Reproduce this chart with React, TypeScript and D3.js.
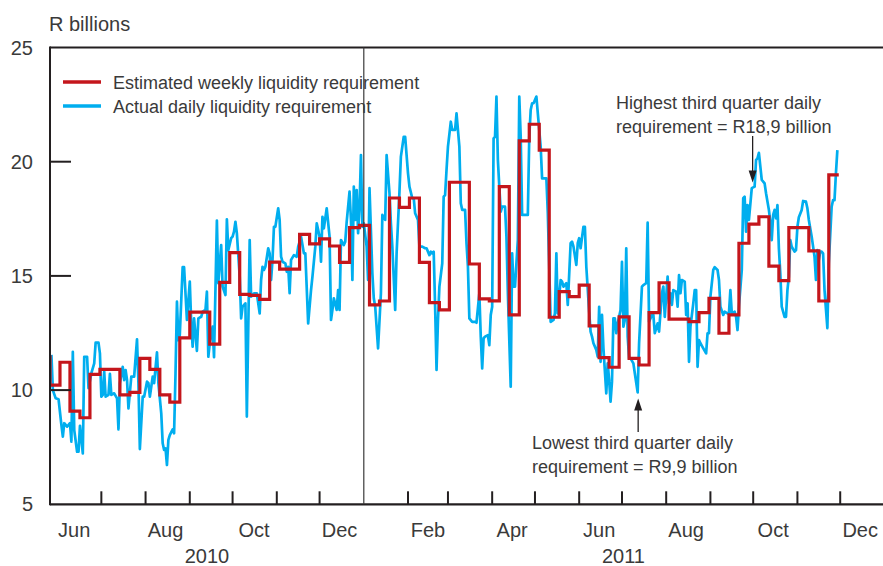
import React from "react";
import * as d3 from "d3";

// ---- Data ----
// Axis domain
const domainStart = new Date(2010, 4, 26);
const domainEnd = new Date(2011, 11, 31);

// Estimated weekly liquidity requirement (R billions), weeks starting Wednesday
const weeklyStart = new Date(2010, 4, 19);
const weeklyValues = [
  11.46, 10.22, 11.22, 9.08, 8.79, 10.69, 10.91, 10.91, 9.79, 9.9, 11.39, 10.91, 9.79, 9.47,
  12.29, 13.41, 13.41, 12.01, 14.72, 16.02, 14.19, 14.15, 13.97, 15.6, 15.3, 15.3, 16.82, 16.4,
  16.62, 16.31, 15.59, 17.11, 17.21, 13.73, 13.9, 18.41, 18.0, 18.41, 15.59, 13.83, 13.51, 19.1,
  19.1, 15.52, 13.99, 13.91, 18.91, 13.29, 20.91, 21.64, 20.51, 13.19, 14.31, 14.09, 14.6, 12.81,
  11.42, 11.0, 13.21, 11.39, 11.1, 13.39, 14.7, 13.11, 13.11, 13.0, 13.39, 14.02, 12.49, 13.29,
  16.43, 17.27, 17.59, 15.43, 14.79, 17.11, 17.11, 16.1, 13.9, 19.42,
];

// Actual daily liquidity requirement: [days after 26 May 2010, R billions]
const dailyActual: [number, number][] = [
  [1,11.54],[2,10.0],[4,9.64],[6,9.6],[8,8.47],[9,7.96],[10,8.55],[12,8.4],[14,8.55],[15,7.74],[16,11.68],[17,8.25],[19,7.3],[20,7.3],[21,8.44],[23,7.23],[24,11.46],[26,11.46],[27,10.08],[29,10.74],[31,11.17],[32,12.08],[34,12.08],[35,11.61],[36,9.71],[37,9.79],[38,10.81],[39,9.71],[41,9.79],[42,10.71],[43,9.79],[45,9.86],[47,9.64],[48,8.28],[49,10.3],[51,11.02],[52,10.44],[53,10.88],[54,10.44],[55,9.2],[57,10.59],[59,10.59],[61,12.22],[62,10.3],[63,7.42],[65,9.71],[66,9.71],[68,10.37],[69,10.3],[70,9.71],[72,10.59],[73,10.3],[75,11.65],[76,10.3],[78,8.98],[79,7.67],[80,7.38],[81,7.45],[82,6.72],[83,7.82],[84,8.03],[86,8.28],[87,8.11],[88,10.74],[89,13.87],[90,12.19],[91,12.41],[93,15.38],[94,15.38],[96,13.07],[98,14.75],[99,12.92],[100,11.9],[101,13.14],[103,11.72],[104,13.14],[106,13.21],[107,13.43],[109,13.51],[110,14.31],[111,11.46],[112,12.05],[114,12.78],[115,11.44],[117,17.42],[118,14.68],[120,16.35],[121,14.53],[123,14.16],[124,17.48],[125,16.13],[127,16.65],[128,16.72],[129,16.94],[130,17.37],[131,16.87],[133,14.97],[134,13.14],[135,13.65],[137,13.8],[138,8.84],[140,16.57],[141,14.09],[143,14.24],[145,14.24],[147,13.36],[148,14.82],[149,15.4],[150,15.26],[151,15.4],[153,16.21],[154,15.99],[155,14.82],[156,15.7],[157,17.15],[158,17.15],[160,17.96],[161,17.45],[162,15.84],[163,15.62],[165,15.55],[166,15.18],[167,15.4],[168,14.24],[169,15.7],[171,15.91],[173,15.84],[174,16.28],[176,16.72],[178,15.99],[179,15.99],[181,12.92],[183,14.38],[184,14.97],[186,16.28],[187,17.3],[189,16.72],[190,15.62],[191,17.59],[192,17.08],[194,17.96],[196,16.72],[197,13.07],[198,13.51],[199,14.02],[201,13.51],[202,14.38],[203,13.51],[204,16.57],[206,16.35],[207,16.5],[208,17.37],[210,18.69],[211,17.45],[212,14.82],[213,18.91],[214,17.45],[215,18.76],[216,16.87],[217,18.03],[218,20.29],[219,17.15],[220,17.3],[222,16.28],[223,14.82],[224,18.84],[226,15.11],[227,14.02],[228,13.65],[230,11.83],[232,14.24],[233,17.67],[235,17.45],[236,20.29],[238,18.62],[239,17.3],[240,16.28],[242,13.51],[243,15.99],[245,18.69],[246,20.22],[248,21.09],[249,21.09],[251,19.49],[252,18.91],[254,18.4],[255,18.4],[256,17.74],[258,17.45],[259,16.28],[261,16.28],[263,16.21],[264,16.21],[266,15.91],[267,16.06],[268,15.99],[269,16.06],[270,13.65],[271,10.88],[272,13.07],[273,14.53],[275,15.55],[276,18.47],[277,18.54],[278,19.64],[279,20.66],[281,21.75],[282,21.39],[284,21.39],[285,22.12],[287,20.66],[288,18.18],[289,17.89],[291,17.89],[292,16.43],[293,15.4],[294,13.14],[296,12.99],[298,12.99],[299,12.95],[301,14.24],[302,12.34],[303,10.95],[304,12.27],[305,12.34],[307,12.41],[308,11.97],[309,13.29],[310,13.65],[311,21.02],[312,21.09],[313,22.85],[314,20.07],[315,18.91],[316,17.81],[317,18.03],[319,18.03],[320,16.72],[321,14.24],[323,10.15],[324,15.99],[325,14.53],[326,14.53],[328,16.57],[329,22.85],[330,21.09],[331,17.67],[333,17.67],[335,17.67],[336,21.09],[337,22.26],[338,22.56],[339,22.56],[341,22.85],[342,22.12],[344,20.66],[345,19.27],[346,19.27],[348,19.27],[349,17.74],[350,15.4],[351,12.99],[353,13.07],[354,13.36],[355,15.99],[356,13.36],[358,14.82],[359,14.75],[360,14.53],[362,14.68],[363,13.73],[365,16.43],[366,16.5],[367,16.28],[369,15.48],[370,16.43],[371,16.65],[372,16.21],[374,17.15],[375,17.15],[376,15.4],[378,13.43],[379,12.56],[380,12.34],[381,12.05],[383,11.76],[384,11.46],[385,13.65],[386,11.24],[387,13.29],[388,11.83],[390,9.86],[391,11.17],[392,10.44],[393,9.49],[394,10.37],[395,13.14],[396,13.14],[397,12.49],[398,12.92],[400,13.51],[401,15.62],[402,12.78],[403,13.07],[404,16.21],[405,12.34],[406,11.39],[407,11.39],[409,11.17],[410,10.74],[412,9.9],[413,12.05],[415,14.53],[416,14.6],[418,14.68],[419,17.33],[420,12.99],[422,13.29],[423,13.29],[424,12.49],[426,12.92],[427,12.56],[429,14.24],[430,14.53],[431,13.21],[433,14.97],[434,13.8],[435,14.24],[436,13.73],[437,14.38],[439,14.31],[440,13.65],[441,15.04],[442,14.24],[443,14.82],[445,14.75],[446,13.29],[447,13.8],[448,11.24],[449,12.78],[451,13.8],[452,14.38],[453,14.38],[454,11.02],[455,12.19],[456,12.05],[458,11.83],[460,11.61],[461,12.49],[462,12.49],[463,14.09],[465,15.26],[466,15.38],[468,15.26],[469,14.82],[470,13.65],[472,13.29],[473,13.43],[475,13.36],[476,13.36],[477,14.38],[478,13.36],[480,13.43],[481,13.21],[482,12.63],[483,13.65],[485,15.26],[486,18.4],[487,18.47],[488,16.94],[489,18.1],[490,17.45],[492,18.84],[494,18.91],[495,20.07],[496,20.15],[497,20.39],[499,19.2],[500,19.13],[501,19.05],[502,18.62],[504,17.89],[505,17.37],[506,16.57],[507,17.67],[508,17.89],[509,17.52],[510,18.1],[511,16.21],[512,15.11],[513,13.65],[515,13.21],[516,13.21],[517,14.38],[518,14.97],[519,16.57],[520,16.28],[522,16.06],[523,16.13],[524,17.15],[525,17.57],[527,17.89],[528,18.28],[530,18.25],[531,17.96],[532,17.45],[534,16.72],[535,16.28],[536,15.84],[537,14.82],[538,16.13],[539,15.7],[540,16.06],[541,16.06],[542,15.99],[543,14.38],[545,12.71],[546,15.55],[548,18.03],[549,18.32],[550,18.32],[551,19.49],[552,20.51],
];

const yTicks = [5, 10, 15, 20, 25];
const yInnerTicks = [10, 15, 20];
const monthLabels = ["Jun", "Aug", "Oct", "Dec", "Feb", "Apr", "Jun", "Aug", "Oct", "Dec"];
const monthLabelDates = [
  new Date(2010, 5, 12), new Date(2010, 7, 15), new Date(2010, 9, 16), new Date(2010, 11, 15),
  new Date(2011, 1, 15), new Date(2011, 3, 15), new Date(2011, 5, 15), new Date(2011, 7, 15),
  new Date(2011, 9, 15), new Date(2011, 11, 15),
];
const years = ["2010", "2011"];
const yearBreak = new Date(2011, 0, 1);
const legendLabels = ["Estimated weekly liquidity requirement", "Actual daily liquidity requirement"];
const highNote = ["Highest third quarter daily", "requirement = R18,9 billion"];
const lowNote = ["Lowest third quarter daily", "requirement = R9,9 billion"];
const highPoint = { day: 494, value: 18.91 };
const lowPoint = { day: 412, value: 9.9 };

const RED = "#c4161c";
const BLUE = "#00aeef";
const AXIS = "#231f20";
const TEXT = "#3a3a3a";
const FONT = "'Liberation Sans', Arial, Helvetica, sans-serif";

export default function App() {
  const W = 883;
  const H = 566;
  const left = 50, right = 883, top = 47.5, bottom = 504.3;

  const x = d3.scaleTime().domain([domainStart, domainEnd]).range([left, right]);
  const y = d3.scaleLinear().domain([5, 25]).range([bottom, top]);

  const dayToDate = (d: number) => d3.timeDay.offset(domainStart, d);

  const weekly = weeklyValues.map((v, i) => ({ date: d3.timeDay.offset(weeklyStart, 7 * i), v }));
  weekly.push({ date: d3.timeDay.offset(weeklyStart, 7 * weeklyValues.length), v: weeklyValues[weeklyValues.length - 1] });

  const daily = dailyActual.map(([d, v]) => ({ date: dayToDate(d), v }));

  const redLine = d3
    .line<{ date: Date; v: number }>()
    .x((d) => x(d.date))
    .y((d) => y(d.v))
    .curve(d3.curveStepAfter);
  const blueLine = d3
    .line<{ date: Date; v: number }>()
    .x((d) => x(d.date))
    .y((d) => y(d.v))
    .curve(d3.curveLinear);

  const monthTicks = d3.timeMonth
    .range(new Date(2010, 6, 1), new Date(2012, 0, 1))
    .filter((d) => +d !== +yearBreak);

  const xBreak = x(yearBreak);
  const yearCenters = [(left + xBreak) / 2, (xBreak + right) / 2];

  const hx = x(dayToDate(highPoint.day)) - 2;
  const hTip = y(highPoint.value) - 4;
  const lx = x(dayToDate(lowPoint.day)) + 0.5;
  const lTip = y(lowPoint.value) + 6;

  return (
    <svg
      width={W}
      height={H}
      style={{ position: "absolute", left: 0, top: 0, display: "block", background: "#fff" }}
      fontFamily={FONT}
    >
      <defs>
        <clipPath id="plotClip">
          <rect x={left} y={top} width={right - left} height={bottom - top} />
        </clipPath>
      </defs>

      {/* Y-axis title */}
      <text x={49} y={31} fontSize={20} fill={TEXT}>R billions</text>

      {/* Y tick labels */}
      {yTicks.map((t) => (
        <text key={t} x={33} y={y(t)} dy="0.35em" fontSize={20} fill={TEXT} textAnchor="end">
          {t}
        </text>
      ))}

      {/* Data lines */}
      <g clipPath="url(#plotClip)">
        <path d={blueLine(daily) || ""} fill="none" stroke={BLUE} strokeWidth={2.7} strokeLinejoin="round" />
        <path d={redLine(weekly) || ""} fill="none" stroke={RED} strokeWidth={3.2} strokeLinejoin="miter" />
      </g>

      {/* Frame */}
      <line x1={left} x2={right} y1={top} y2={top} stroke={AXIS} strokeWidth={2} />
      <line x1={left} x2={left} y1={top - 1} y2={bottom + 1} stroke={AXIS} strokeWidth={2} />
      <line x1={left} x2={right} y1={bottom} y2={bottom} stroke={AXIS} strokeWidth={2.2} />
      <line x1={xBreak} x2={xBreak} y1={top} y2={bottom} stroke="#3a3a3a" strokeWidth={1.2} />

      {/* Y inner ticks */}
      {yInnerTicks.map((t) => (
        <line key={t} x1={left} x2={left + 21} y1={y(t)} y2={y(t)} stroke={AXIS} strokeWidth={2} />
      ))}

      {/* X ticks */}
      {monthTicks.map((d) => (
        <line key={+d} x1={x(d)} x2={x(d)} y1={bottom} y2={bottom - 13} stroke={AXIS} strokeWidth={2} />
      ))}

      {/* Month labels */}
      {monthLabels.map((m, i) => (
        <text key={i} x={x(monthLabelDates[i])} y={537} fontSize={20} fill={TEXT} textAnchor="middle">
          {m}
        </text>
      ))}
      {years.map((yr, i) => (
        <text key={yr} x={yearCenters[i]} y={563} fontSize={20} fill={TEXT} textAnchor="middle">
          {yr}
        </text>
      ))}

      {/* Legend */}
      <line x1={63} x2={101} y1={82} y2={82} stroke={RED} strokeWidth={3.5} />
      <line x1={63} x2={101} y1={106} y2={106} stroke={BLUE} strokeWidth={3.5} />
      <text x={113} y={89} fontSize={18} fill={TEXT}>{legendLabels[0]}</text>
      <text x={113} y={113} fontSize={18} fill={TEXT}>{legendLabels[1]}</text>

      {/* High annotation */}
      <text x={616} y={109} fontSize={18} fill={TEXT}>{highNote[0]}</text>
      <text x={616} y={133} fontSize={18} fill={TEXT}>{highNote[1]}</text>
      <line x1={hx} x2={hx} y1={136} y2={hTip - 10} stroke={AXIS} strokeWidth={1.3} />
      <path d={`M${hx - 4},${hTip - 12}L${hx + 4},${hTip - 12}L${hx},${hTip}Z`} fill={AXIS} />

      {/* Low annotation */}
      <text x={532} y={449} fontSize={18} fill={TEXT}>{lowNote[0]}</text>
      <text x={532} y={473} fontSize={18} fill={TEXT}>{lowNote[1]}</text>
      <line x1={lx} x2={lx} y1={432} y2={lTip + 10} stroke={AXIS} strokeWidth={1.3} />
      <path d={`M${lx - 4},${lTip + 12}L${lx + 4},${lTip + 12}L${lx},${lTip}Z`} fill={AXIS} />
    </svg>
  );
}
